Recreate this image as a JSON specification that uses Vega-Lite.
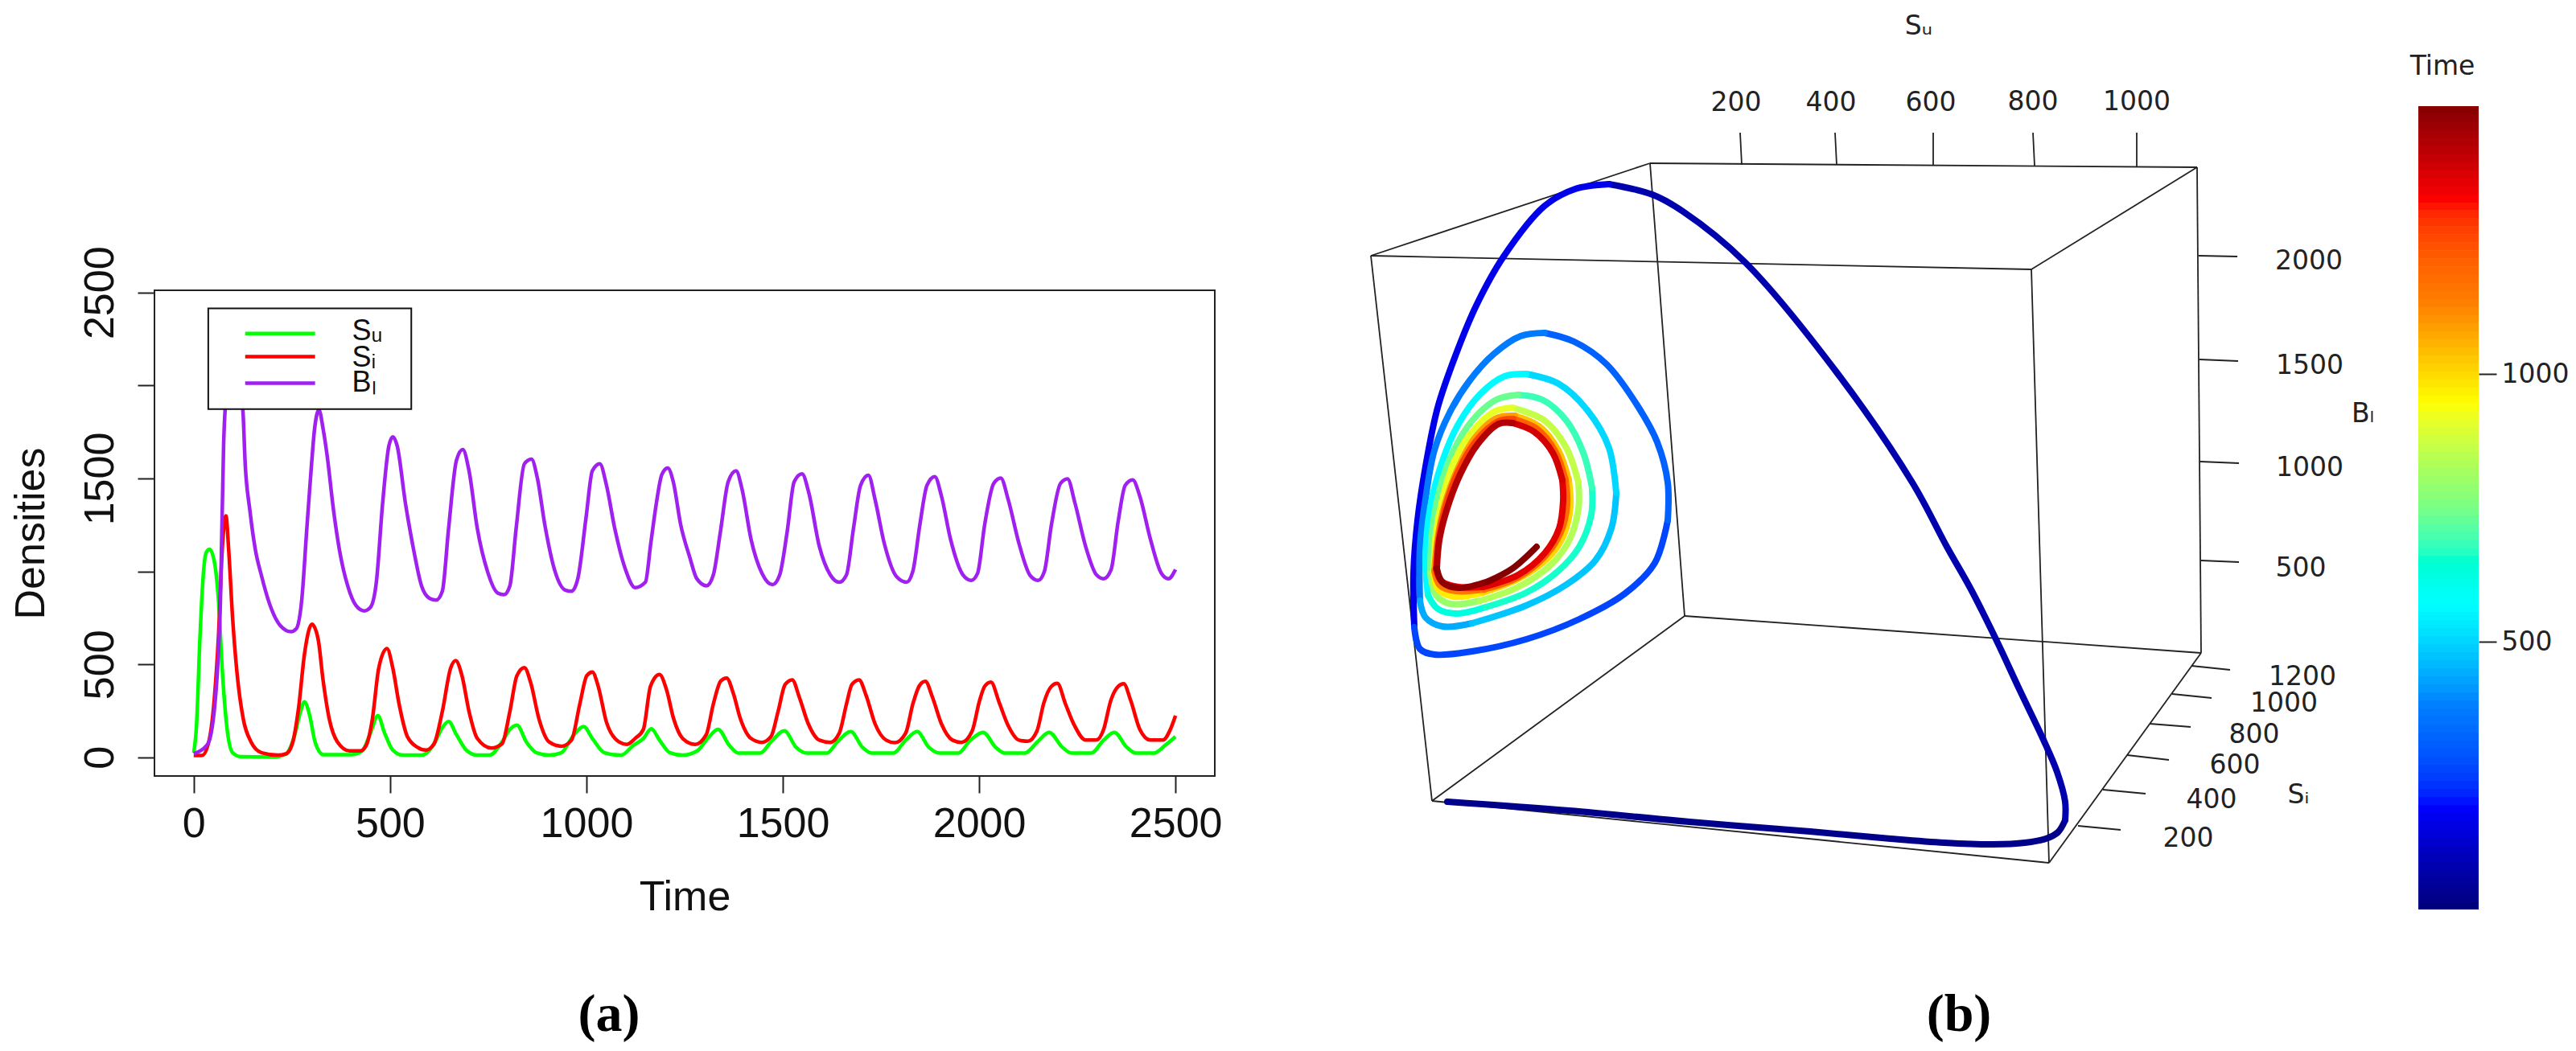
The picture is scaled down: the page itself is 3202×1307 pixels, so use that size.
{"$schema":"https://vega.github.io/schema/vega-lite/v6.json","width":3202,"height":1307,"padding":0,"autosize":{"type":"none"},"background":"white","config":{"view":{"stroke":null},"font":"Liberation Sans","axis":{"grid":false,"labelFont":"Liberation Sans","titleFont":"Liberation Sans","labelColor":"#111","titleColor":"#111","titleFontWeight":"normal","tickColor":"#222"}},
"datasets":{
"series":[
{"Time":0,"Series":"Su","Density":25},{"Time":7,"Series":"Su","Density":170},{"Time":16,"Series":"Su","Density":652},{"Time":23,"Series":"Su","Density":942},{"Time":31,"Series":"Su","Density":1097},{"Time":40,"Series":"Su","Density":1120},{"Time":52,"Series":"Su","Density":1058},{"Time":63,"Series":"Su","Density":846},{"Time":73,"Series":"Su","Density":459},{"Time":84,"Series":"Su","Density":170},{"Time":99,"Series":"Su","Density":25},{"Time":120,"Series":"Su","Density":4},{"Time":204,"Series":"Su","Density":2},{"Time":235,"Series":"Su","Density":19},{"Time":256,"Series":"Su","Density":112},{"Time":272,"Series":"Su","Density":247},{"Time":282,"Series":"Su","Density":299},{"Time":295,"Series":"Su","Density":228},{"Time":309,"Series":"Su","Density":83},{"Time":330,"Series":"Su","Density":15},{"Time":403,"Series":"Su","Density":15},{"Time":429,"Series":"Su","Density":35},{"Time":450,"Series":"Su","Density":131},{"Time":469,"Series":"Su","Density":224},{"Time":486,"Series":"Su","Density":131},{"Time":507,"Series":"Su","Density":39},{"Time":533,"Series":"Su","Density":12},{"Time":581,"Series":"Su","Density":12},{"Time":612,"Series":"Su","Density":73},{"Time":633,"Series":"Su","Density":160},{"Time":649,"Series":"Su","Density":193},{"Time":669,"Series":"Su","Density":122},{"Time":696,"Series":"Su","Density":35},{"Time":722,"Series":"Su","Density":12},{"Time":753,"Series":"Su","Density":12},{"Time":785,"Series":"Su","Density":83},{"Time":805,"Series":"Su","Density":151},{"Time":823,"Series":"Su","Density":174},{"Time":847,"Series":"Su","Density":83},{"Time":873,"Series":"Su","Density":25},{"Time":905,"Series":"Su","Density":12},{"Time":936,"Series":"Su","Density":25},{"Time":968,"Series":"Su","Density":122},{"Time":993,"Series":"Su","Density":166},{"Time":1015,"Series":"Su","Density":102},{"Time":1046,"Series":"Su","Density":25},{"Time":1088,"Series":"Su","Density":12},{"Time":1119,"Series":"Su","Density":64},{"Time":1145,"Series":"Su","Density":102},{"Time":1165,"Series":"Su","Density":154},{"Time":1186,"Series":"Su","Density":93},{"Time":1213,"Series":"Su","Density":25},{"Time":1245,"Series":"Su","Density":12},{"Time":1282,"Series":"Su","Density":35},{"Time":1309,"Series":"Su","Density":102},{"Time":1335,"Series":"Su","Density":151},{"Time":1364,"Series":"Su","Density":64},{"Time":1387,"Series":"Su","Density":23},{"Time":1442,"Series":"Su","Density":23},{"Time":1470,"Series":"Su","Density":83},{"Time":1504,"Series":"Su","Density":143},{"Time":1534,"Series":"Su","Density":54},{"Time":1562,"Series":"Su","Density":23},{"Time":1612,"Series":"Su","Density":23},{"Time":1639,"Series":"Su","Density":83},{"Time":1673,"Series":"Su","Density":139},{"Time":1703,"Series":"Su","Density":54},{"Time":1726,"Series":"Su","Density":23},{"Time":1781,"Series":"Su","Density":23},{"Time":1813,"Series":"Su","Density":93},{"Time":1842,"Series":"Su","Density":139},{"Time":1872,"Series":"Su","Density":54},{"Time":1900,"Series":"Su","Density":23},{"Time":1946,"Series":"Su","Density":23},{"Time":1978,"Series":"Su","Density":93},{"Time":2010,"Series":"Su","Density":135},{"Time":2042,"Series":"Su","Density":54},{"Time":2065,"Series":"Su","Density":23},{"Time":2116,"Series":"Su","Density":23},{"Time":2148,"Series":"Su","Density":83},{"Time":2178,"Series":"Su","Density":135},{"Time":2212,"Series":"Su","Density":54},{"Time":2235,"Series":"Su","Density":23},{"Time":2285,"Series":"Su","Density":23},{"Time":2317,"Series":"Su","Density":93},{"Time":2344,"Series":"Su","Density":135},{"Time":2376,"Series":"Su","Density":54},{"Time":2399,"Series":"Su","Density":23},{"Time":2445,"Series":"Su","Density":23},{"Time":2473,"Series":"Su","Density":64},{"Time":2500,"Series":"Su","Density":112},
{"Time":0,"Series":"Si","Density":10},{"Time":21,"Series":"Si","Density":10},{"Time":37,"Series":"Si","Density":73},{"Time":52,"Series":"Si","Density":305},{"Time":63,"Series":"Si","Density":652},{"Time":73,"Series":"Si","Density":1135},{"Time":82,"Series":"Si","Density":1299},{"Time":89,"Series":"Si","Density":1116},{"Time":99,"Series":"Si","Density":749},{"Time":110,"Series":"Si","Density":459},{"Time":126,"Series":"Si","Density":208},{"Time":146,"Series":"Si","Density":83},{"Time":173,"Series":"Si","Density":25},{"Time":214,"Series":"Si","Density":12},{"Time":235,"Series":"Si","Density":19},{"Time":251,"Series":"Si","Density":73},{"Time":267,"Series":"Si","Density":266},{"Time":282,"Series":"Si","Density":556},{"Time":301,"Series":"Si","Density":716},{"Time":317,"Series":"Si","Density":633},{"Time":329,"Series":"Si","Density":421},{"Time":345,"Series":"Si","Density":208},{"Time":366,"Series":"Si","Density":83},{"Time":397,"Series":"Si","Density":35},{"Time":424,"Series":"Si","Density":35},{"Time":439,"Series":"Si","Density":64},{"Time":455,"Series":"Si","Density":208},{"Time":471,"Series":"Si","Density":479},{"Time":492,"Series":"Si","Density":585},{"Time":507,"Series":"Si","Density":479},{"Time":523,"Series":"Si","Density":286},{"Time":544,"Series":"Si","Density":112},{"Time":570,"Series":"Si","Density":54},{"Time":591,"Series":"Si","Density":39},{"Time":612,"Series":"Si","Density":73},{"Time":633,"Series":"Si","Density":247},{"Time":654,"Series":"Si","Density":479},{"Time":667,"Series":"Si","Density":521},{"Time":683,"Series":"Si","Density":440},{"Time":701,"Series":"Si","Density":247},{"Time":722,"Series":"Si","Density":102},{"Time":758,"Series":"Si","Density":50},{"Time":785,"Series":"Si","Density":73},{"Time":805,"Series":"Si","Density":247},{"Time":823,"Series":"Si","Density":440},{"Time":842,"Series":"Si","Density":483},{"Time":858,"Series":"Si","Density":402},{"Time":879,"Series":"Si","Density":208},{"Time":905,"Series":"Si","Density":83},{"Time":936,"Series":"Si","Density":60},{"Time":962,"Series":"Si","Density":93},{"Time":983,"Series":"Si","Density":286},{"Time":1001,"Series":"Si","Density":440},{"Time":1015,"Series":"Si","Density":459},{"Time":1030,"Series":"Si","Density":382},{"Time":1051,"Series":"Si","Density":189},{"Time":1083,"Series":"Si","Density":83},{"Time":1103,"Series":"Si","Density":70},{"Time":1124,"Series":"Si","Density":102},{"Time":1145,"Series":"Si","Density":151},{"Time":1163,"Series":"Si","Density":382},{"Time":1186,"Series":"Si","Density":446},{"Time":1204,"Series":"Si","Density":363},{"Time":1222,"Series":"Si","Density":208},{"Time":1245,"Series":"Si","Density":102},{"Time":1277,"Series":"Si","Density":70},{"Time":1305,"Series":"Si","Density":122},{"Time":1323,"Series":"Si","Density":286},{"Time":1342,"Series":"Si","Density":411},{"Time":1357,"Series":"Si","Density":427},{"Time":1374,"Series":"Si","Density":344},{"Time":1392,"Series":"Si","Density":208},{"Time":1419,"Series":"Si","Density":102},{"Time":1447,"Series":"Si","Density":81},{"Time":1470,"Series":"Si","Density":112},{"Time":1488,"Series":"Si","Density":247},{"Time":1506,"Series":"Si","Density":392},{"Time":1524,"Series":"Si","Density":417},{"Time":1542,"Series":"Si","Density":324},{"Time":1565,"Series":"Si","Density":180},{"Time":1593,"Series":"Si","Density":93},{"Time":1621,"Series":"Si","Density":81},{"Time":1644,"Series":"Si","Density":131},{"Time":1662,"Series":"Si","Density":286},{"Time":1676,"Series":"Si","Density":392},{"Time":1694,"Series":"Si","Density":417},{"Time":1712,"Series":"Si","Density":334},{"Time":1735,"Series":"Si","Density":180},{"Time":1763,"Series":"Si","Density":93},{"Time":1785,"Series":"Si","Density":79},{"Time":1813,"Series":"Si","Density":131},{"Time":1831,"Series":"Si","Density":286},{"Time":1848,"Series":"Si","Density":386},{"Time":1863,"Series":"Si","Density":409},{"Time":1881,"Series":"Si","Density":324},{"Time":1904,"Series":"Si","Density":180},{"Time":1932,"Series":"Si","Density":93},{"Time":1955,"Series":"Si","Density":81},{"Time":1982,"Series":"Si","Density":141},{"Time":2001,"Series":"Si","Density":305},{"Time":2014,"Series":"Si","Density":382},{"Time":2030,"Series":"Si","Density":405},{"Time":2051,"Series":"Si","Density":295},{"Time":2074,"Series":"Si","Density":170},{"Time":2101,"Series":"Si","Density":93},{"Time":2124,"Series":"Si","Density":87},{"Time":2147,"Series":"Si","Density":141},{"Time":2165,"Series":"Si","Density":295},{"Time":2184,"Series":"Si","Density":382},{"Time":2199,"Series":"Si","Density":398},{"Time":2220,"Series":"Si","Density":286},{"Time":2243,"Series":"Si","Density":170},{"Time":2271,"Series":"Si","Density":93},{"Time":2298,"Series":"Si","Density":93},{"Time":2317,"Series":"Si","Density":151},{"Time":2335,"Series":"Si","Density":305},{"Time":2354,"Series":"Si","Density":382},{"Time":2368,"Series":"Si","Density":396},{"Time":2386,"Series":"Si","Density":305},{"Time":2409,"Series":"Si","Density":151},{"Time":2436,"Series":"Si","Density":93},{"Time":2468,"Series":"Si","Density":93},{"Time":2487,"Series":"Si","Density":151},{"Time":2500,"Series":"Si","Density":224},
{"Time":0,"Series":"BI","Density":20},{"Time":36,"Series":"BI","Density":73},{"Time":57,"Series":"BI","Density":363},{"Time":68,"Series":"BI","Density":845},{"Time":76,"Series":"BI","Density":1675},{"Time":85,"Series":"BI","Density":2000},{"Time":102,"Series":"BI","Density":2150},{"Time":125,"Series":"BI","Density":1870},{"Time":131,"Series":"BI","Density":1580},{"Time":143,"Series":"BI","Density":1328},{"Time":157,"Series":"BI","Density":1116},{"Time":172,"Series":"BI","Density":981},{"Time":193,"Series":"BI","Density":826},{"Time":220,"Series":"BI","Density":710},{"Time":248,"Series":"BI","Density":676},{"Time":261,"Series":"BI","Density":691},{"Time":275,"Series":"BI","Density":846},{"Time":288,"Series":"BI","Density":1232},{"Time":298,"Series":"BI","Density":1521},{"Time":308,"Series":"BI","Density":1772},{"Time":319,"Series":"BI","Density":1869},{"Time":329,"Series":"BI","Density":1772},{"Time":340,"Series":"BI","Density":1618},{"Time":356,"Series":"BI","Density":1328},{"Time":371,"Series":"BI","Density":1116},{"Time":392,"Series":"BI","Density":923},{"Time":413,"Series":"BI","Density":817},{"Time":434,"Series":"BI","Density":788},{"Time":450,"Series":"BI","Density":807},{"Time":465,"Series":"BI","Density":942},{"Time":481,"Series":"BI","Density":1367},{"Time":497,"Series":"BI","Density":1676},{"Time":507,"Series":"BI","Density":1724},{"Time":518,"Series":"BI","Density":1676},{"Time":539,"Series":"BI","Density":1367},{"Time":560,"Series":"BI","Density":1116},{"Time":580,"Series":"BI","Density":923},{"Time":601,"Series":"BI","Density":855},{"Time":617,"Series":"BI","Density":846},{"Time":633,"Series":"BI","Density":894},{"Time":649,"Series":"BI","Density":1232},{"Time":669,"Series":"BI","Density":1598},{"Time":685,"Series":"BI","Density":1656},{"Time":701,"Series":"BI","Density":1541},{"Time":722,"Series":"BI","Density":1232},{"Time":748,"Series":"BI","Density":1000},{"Time":774,"Series":"BI","Density":884},{"Time":790,"Series":"BI","Density":875},{"Time":805,"Series":"BI","Density":923},{"Time":821,"Series":"BI","Density":1232},{"Time":842,"Series":"BI","Density":1579},{"Time":860,"Series":"BI","Density":1604},{"Time":875,"Series":"BI","Density":1502},{"Time":894,"Series":"BI","Density":1251},{"Time":920,"Series":"BI","Density":1000},{"Time":946,"Series":"BI","Density":900},{"Time":962,"Series":"BI","Density":894},{"Time":978,"Series":"BI","Density":961},{"Time":999,"Series":"BI","Density":1290},{"Time":1015,"Series":"BI","Density":1541},{"Time":1034,"Series":"BI","Density":1579},{"Time":1051,"Series":"BI","Density":1463},{"Time":1072,"Series":"BI","Density":1232},{"Time":1098,"Series":"BI","Density":1019},{"Time":1124,"Series":"BI","Density":913},{"Time":1150,"Series":"BI","Density":942},{"Time":1164,"Series":"BI","Density":1154},{"Time":1178,"Series":"BI","Density":1367},{"Time":1192,"Series":"BI","Density":1521},{"Time":1207,"Series":"BI","Density":1556},{"Time":1221,"Series":"BI","Density":1483},{"Time":1240,"Series":"BI","Density":1251},{"Time":1263,"Series":"BI","Density":1077},{"Time":1281,"Series":"BI","Density":961},{"Time":1306,"Series":"BI","Density":923},{"Time":1323,"Series":"BI","Density":981},{"Time":1341,"Series":"BI","Density":1212},{"Time":1361,"Series":"BI","Density":1483},{"Time":1381,"Series":"BI","Density":1541},{"Time":1396,"Series":"BI","Density":1444},{"Time":1419,"Series":"BI","Density":1174},{"Time":1447,"Series":"BI","Density":990},{"Time":1474,"Series":"BI","Density":929},{"Time":1492,"Series":"BI","Density":981},{"Time":1511,"Series":"BI","Density":1212},{"Time":1529,"Series":"BI","Density":1483},{"Time":1549,"Series":"BI","Density":1525},{"Time":1566,"Series":"BI","Density":1425},{"Time":1593,"Series":"BI","Density":1135},{"Time":1621,"Series":"BI","Density":981},{"Time":1644,"Series":"BI","Density":942},{"Time":1662,"Series":"BI","Density":981},{"Time":1680,"Series":"BI","Density":1232},{"Time":1698,"Series":"BI","Density":1463},{"Time":1718,"Series":"BI","Density":1517},{"Time":1735,"Series":"BI","Density":1386},{"Time":1758,"Series":"BI","Density":1154},{"Time":1790,"Series":"BI","Density":971},{"Time":1815,"Series":"BI","Density":942},{"Time":1831,"Series":"BI","Density":1000},{"Time":1849,"Series":"BI","Density":1251},{"Time":1867,"Series":"BI","Density":1463},{"Time":1887,"Series":"BI","Density":1510},{"Time":1904,"Series":"BI","Density":1405},{"Time":1927,"Series":"BI","Density":1174},{"Time":1959,"Series":"BI","Density":981},{"Time":1980,"Series":"BI","Density":952},{"Time":1996,"Series":"BI","Density":990},{"Time":2014,"Series":"BI","Density":1251},{"Time":2037,"Series":"BI","Density":1473},{"Time":2055,"Series":"BI","Density":1502},{"Time":2074,"Series":"BI","Density":1386},{"Time":2101,"Series":"BI","Density":1154},{"Time":2129,"Series":"BI","Density":981},{"Time":2150,"Series":"BI","Density":952},{"Time":2166,"Series":"BI","Density":1000},{"Time":2184,"Series":"BI","Density":1251},{"Time":2207,"Series":"BI","Density":1473},{"Time":2225,"Series":"BI","Density":1498},{"Time":2244,"Series":"BI","Density":1367},{"Time":2271,"Series":"BI","Density":1135},{"Time":2299,"Series":"BI","Density":981},{"Time":2317,"Series":"BI","Density":961},{"Time":2336,"Series":"BI","Density":1010},{"Time":2354,"Series":"BI","Density":1270},{"Time":2372,"Series":"BI","Density":1463},{"Time":2391,"Series":"BI","Density":1492},{"Time":2409,"Series":"BI","Density":1405},{"Time":2436,"Series":"BI","Density":1174},{"Time":2464,"Series":"BI","Density":990},{"Time":2482,"Series":"BI","Density":961},{"Time":2500,"Series":"BI","Density":1010}
],
"legendKeys":[{"Series":"Su","from":131,"to":309,"level":2280},{"Series":"Si","from":131,"to":309,"level":2155},{"Series":"BI","from":131,"to":309,"level":2013}],
"legendText":[{"label":"Sᵤ","at":403,"level":2293},{"label":"Sᵢ","at":403,"level":2149},{"label":"Bₗ","at":403,"level":2013}],
"orbit":[
{"Arc":18,"Time":0,"u":1799,"v":997},{"Arc":18,"Time":5,"u":1950,"v":1008},{"Arc":18,"Time":10,"u":2100,"v":1022},{"Arc":18,"Time":15,"u":2250,"v":1034},{"Arc":18,"Time":18,"u":2350,"v":1043},{"Arc":18,"Time":21,"u":2417,"v":1048},{"Arc":18,"Time":24,"u":2477,"v":1050},{"Arc":18,"Time":27,"u":2517,"v":1048},{"Arc":18,"Time":30,"u":2543,"v":1043},{"Arc":18,"Time":33,"u":2558,"v":1035},{"Arc":18,"Time":36,"u":2567,"v":1020},
{"Arc":68,"Time":36,"u":2567,"v":1020},{"Arc":68,"Time":38,"u":2567,"v":997},{"Arc":68,"Time":41,"u":2557,"v":960},{"Arc":68,"Time":45,"u":2540,"v":920},{"Arc":68,"Time":50,"u":2510,"v":857},{"Arc":68,"Time":54,"u":2482,"v":797},{"Arc":68,"Time":58,"u":2450,"v":733},{"Arc":68,"Time":61,"u":2420,"v":680},{"Arc":68,"Time":64,"u":2377,"v":600},{"Arc":68,"Time":70,"u":2283,"v":463},{"Arc":68,"Time":80,"u":2169,"v":326},{"Arc":68,"Time":88,"u":2092,"v":263},{"Arc":68,"Time":93,"u":2054,"v":242},{"Arc":68,"Time":100,"u":2000,"v":229},
{"Arc":158,"Time":100,"u":2000,"v":229},{"Arc":158,"Time":105,"u":1958,"v":235},{"Arc":158,"Time":110,"u":1920,"v":256},{"Arc":158,"Time":120,"u":1869,"v":319},{"Arc":158,"Time":127,"u":1835,"v":380},{"Arc":158,"Time":132,"u":1810,"v":440},{"Arc":158,"Time":140,"u":1787,"v":507},{"Arc":158,"Time":155,"u":1772,"v":580},{"Arc":158,"Time":175,"u":1762,"v":647},{"Arc":158,"Time":195,"u":1757,"v":713},{"Arc":158,"Time":215,"u":1758,"v":780},
{"Arc":255,"Time":215,"u":1758,"v":780},{"Arc":255,"Time":232,"u":1765,"v":807},{"Arc":255,"Time":248,"u":1783,"v":814},{"Arc":255,"Time":258,"u":1830,"v":810},{"Arc":255,"Time":268,"u":1897,"v":795},{"Arc":255,"Time":277,"u":1963,"v":770},{"Arc":255,"Time":285,"u":2020,"v":738},{"Arc":255,"Time":290,"u":2057,"v":700},{"Arc":255,"Time":294,"u":2073,"v":647},
{"Arc":306,"Time":294,"u":2073,"v":647},{"Arc":306,"Time":297,"u":2073,"v":600},{"Arc":306,"Time":300,"u":2060,"v":550},{"Arc":306,"Time":303,"u":2037,"v":507},{"Arc":306,"Time":307,"u":1997,"v":453},{"Arc":306,"Time":311,"u":1957,"v":425},{"Arc":306,"Time":319,"u":1920,"v":414},
{"Arc":365,"Time":319,"u":1920,"v":414},{"Arc":365,"Time":325,"u":1890,"v":418},{"Arc":365,"Time":332,"u":1857,"v":440},{"Arc":365,"Time":340,"u":1827,"v":473},{"Arc":365,"Time":350,"u":1802,"v":513},{"Arc":365,"Time":362,"u":1783,"v":560},{"Arc":365,"Time":378,"u":1772,"v":620},{"Arc":365,"Time":395,"u":1765,"v":680},{"Arc":365,"Time":412,"u":1765,"v":747},
{"Arc":432,"Time":412,"u":1765,"v":747},{"Arc":432,"Time":425,"u":1772,"v":768},{"Arc":432,"Time":440,"u":1793,"v":779},{"Arc":432,"Time":452,"u":1830,"v":775},
{"Arc":470,"Time":452,"u":1830,"v":775},{"Arc":470,"Time":463,"u":1897,"v":753},{"Arc":470,"Time":472,"u":1947,"v":727},{"Arc":470,"Time":480,"u":1983,"v":697},{"Arc":470,"Time":485,"u":2003,"v":657},{"Arc":470,"Time":489,"u":2009,"v":613},
{"Arc":498,"Time":489,"u":2009,"v":613},{"Arc":498,"Time":493,"u":2000,"v":557},{"Arc":498,"Time":497,"u":1973,"v":510},{"Arc":498,"Time":501,"u":1937,"v":477},{"Arc":498,"Time":507,"u":1897,"v":465},
{"Arc":553,"Time":507,"u":1897,"v":465},{"Arc":553,"Time":513,"u":1870,"v":468},{"Arc":553,"Time":522,"u":1840,"v":490},{"Arc":553,"Time":532,"u":1813,"v":527},{"Arc":553,"Time":545,"u":1793,"v":573},{"Arc":553,"Time":562,"u":1778,"v":630},{"Arc":553,"Time":582,"u":1772,"v":697},{"Arc":553,"Time":600,"u":1775,"v":740},
{"Arc":618,"Time":600,"u":1775,"v":740},{"Arc":618,"Time":612,"u":1787,"v":757},{"Arc":618,"Time":624,"u":1810,"v":763},{"Arc":618,"Time":636,"u":1847,"v":755},
{"Arc":652,"Time":636,"u":1847,"v":755},{"Arc":652,"Time":646,"u":1897,"v":737},{"Arc":652,"Time":654,"u":1937,"v":710},{"Arc":652,"Time":660,"u":1963,"v":680},{"Arc":652,"Time":665,"u":1978,"v":640},{"Arc":652,"Time":669,"u":1979,"v":607},
{"Arc":677,"Time":669,"u":1979,"v":607},{"Arc":677,"Time":673,"u":1968,"v":563},{"Arc":677,"Time":677,"u":1947,"v":523},{"Arc":677,"Time":681,"u":1917,"v":497},{"Arc":677,"Time":685,"u":1887,"v":491},
{"Arc":727,"Time":685,"u":1887,"v":491},{"Arc":727,"Time":692,"u":1860,"v":497},{"Arc":727,"Time":703,"u":1830,"v":523},{"Arc":727,"Time":715,"u":1807,"v":560},{"Arc":727,"Time":730,"u":1790,"v":607},{"Arc":727,"Time":750,"u":1780,"v":663},{"Arc":727,"Time":770,"u":1778,"v":713},
{"Arc":789,"Time":770,"u":1778,"v":713},{"Arc":789,"Time":782,"u":1785,"v":740},{"Arc":789,"Time":795,"u":1803,"v":751},{"Arc":789,"Time":808,"u":1840,"v":747},
{"Arc":827,"Time":808,"u":1840,"v":747},{"Arc":827,"Time":820,"u":1887,"v":730},{"Arc":827,"Time":830,"u":1927,"v":703},{"Arc":827,"Time":837,"u":1950,"v":673},{"Arc":827,"Time":843,"u":1962,"v":633},{"Arc":827,"Time":847,"u":1962,"v":600},
{"Arc":853,"Time":847,"u":1962,"v":600},{"Arc":853,"Time":851,"u":1947,"v":557},{"Arc":853,"Time":855,"u":1920,"v":523},{"Arc":853,"Time":860,"u":1880,"v":507},
{"Arc":905,"Time":860,"u":1880,"v":507},{"Arc":905,"Time":868,"u":1857,"v":512},{"Arc":905,"Time":880,"u":1830,"v":537},{"Arc":905,"Time":895,"u":1808,"v":573},{"Arc":905,"Time":912,"u":1793,"v":620},{"Arc":905,"Time":930,"u":1785,"v":663},{"Arc":905,"Time":950,"u":1782,"v":713},
{"Arc":966,"Time":950,"u":1782,"v":713},{"Arc":966,"Time":960,"u":1788,"v":733},{"Arc":966,"Time":970,"u":1807,"v":742},{"Arc":966,"Time":982,"u":1843,"v":737},
{"Arc":1002,"Time":982,"u":1843,"v":737},{"Arc":1002,"Time":995,"u":1887,"v":720},{"Arc":1002,"Time":1005,"u":1923,"v":695},{"Arc":1002,"Time":1012,"u":1943,"v":667},{"Arc":1002,"Time":1018,"u":1952,"v":630},{"Arc":1002,"Time":1022,"u":1950,"v":597},
{"Arc":1028,"Time":1022,"u":1950,"v":597},{"Arc":1028,"Time":1026,"u":1937,"v":560},{"Arc":1028,"Time":1030,"u":1913,"v":530},{"Arc":1028,"Time":1034,"u":1883,"v":517},
{"Arc":1078,"Time":1034,"u":1883,"v":517},{"Arc":1078,"Time":1042,"u":1860,"v":520},{"Arc":1078,"Time":1053,"u":1833,"v":545},{"Arc":1078,"Time":1068,"u":1812,"v":583},{"Arc":1078,"Time":1085,"u":1795,"v":630},{"Arc":1078,"Time":1105,"u":1787,"v":670},{"Arc":1078,"Time":1122,"u":1783,"v":710},
{"Arc":1140,"Time":1122,"u":1783,"v":710},{"Arc":1140,"Time":1133,"u":1790,"v":728},{"Arc":1140,"Time":1145,"u":1810,"v":735},{"Arc":1140,"Time":1158,"u":1845,"v":733},
{"Arc":1177,"Time":1158,"u":1845,"v":733},{"Arc":1177,"Time":1170,"u":1887,"v":718},{"Arc":1177,"Time":1180,"u":1921,"v":691},{"Arc":1177,"Time":1186,"u":1940,"v":662},{"Arc":1177,"Time":1192,"u":1948,"v":627},{"Arc":1177,"Time":1196,"u":1946,"v":597},
{"Arc":1201,"Time":1196,"u":1946,"v":597},{"Arc":1201,"Time":1200,"u":1933,"v":561},{"Arc":1201,"Time":1203,"u":1910,"v":533},{"Arc":1201,"Time":1207,"u":1881,"v":521},
{"Arc":1252,"Time":1207,"u":1881,"v":521},{"Arc":1252,"Time":1215,"u":1862,"v":524},{"Arc":1252,"Time":1228,"u":1835,"v":548},{"Arc":1252,"Time":1242,"u":1813,"v":585},{"Arc":1252,"Time":1260,"u":1796,"v":632},{"Arc":1252,"Time":1280,"u":1788,"v":670},{"Arc":1252,"Time":1298,"u":1785,"v":707},
{"Arc":1315,"Time":1298,"u":1785,"v":707},{"Arc":1315,"Time":1308,"u":1792,"v":723},{"Arc":1315,"Time":1320,"u":1813,"v":730},{"Arc":1315,"Time":1332,"u":1843,"v":730},
{"Arc":1352,"Time":1332,"u":1843,"v":730},{"Arc":1352,"Time":1345,"u":1887,"v":715},{"Arc":1352,"Time":1355,"u":1920,"v":688},{"Arc":1352,"Time":1362,"u":1938,"v":657},{"Arc":1352,"Time":1368,"u":1943,"v":623},{"Arc":1352,"Time":1372,"u":1942,"v":597},
{"Arc":1376,"Time":1372,"u":1942,"v":597},{"Arc":1376,"Time":1376,"u":1930,"v":563},{"Arc":1376,"Time":1379,"u":1907,"v":537},{"Arc":1376,"Time":1381,"u":1880,"v":526},
{"Arc":1421,"Time":1381,"u":1880,"v":526},{"Arc":1421,"Time":1388,"u":1863,"v":527},{"Arc":1421,"Time":1400,"u":1837,"v":552},{"Arc":1421,"Time":1414,"u":1815,"v":590},{"Arc":1421,"Time":1430,"u":1798,"v":635},{"Arc":1421,"Time":1448,"u":1789,"v":672},{"Arc":1421,"Time":1462,"u":1786,"v":707},
{"Arc":1474,"Time":1462,"u":1786,"v":707},{"Arc":1474,"Time":1470,"u":1793,"v":724},{"Arc":1474,"Time":1478,"u":1813,"v":731},{"Arc":1474,"Time":1486,"u":1850,"v":723},
{"Arc":1493,"Time":1486,"u":1850,"v":723},{"Arc":1493,"Time":1493,"u":1880,"v":707},{"Arc":1493,"Time":1500,"u":1910,"v":680}
],
"box":[
{"edge":"top left","u":1704,"v":318,"u2":2051,"v2":203},{"edge":"top front","u":1704,"v":318,"u2":2525,"v2":335},{"edge":"top back","u":2051,"v":203,"u2":2731,"v2":208},{"edge":"top right","u":2525,"v":335,"u2":2731,"v2":208},{"edge":"front left","u":1704,"v":318,"u2":1780,"v2":996},{"edge":"back left","u":2051,"v":203,"u2":2094,"v2":766},{"edge":"front right","u":2525,"v":335,"u2":2547,"v2":1073},{"edge":"back right","u":2731,"v":208,"u2":2736,"v2":812},{"edge":"bottom left","u":1780,"v":996,"u2":2094,"v2":766},{"edge":"bottom front","u":1780,"v":996,"u2":2547,"v2":1073},{"edge":"bottom back","u":2094,"v":766,"u2":2736,"v2":812},{"edge":"bottom right","u":2547,"v":1073,"u2":2736,"v2":812},
{"edge":"Su 200","u":2165,"v":205,"u2":2163,"v2":165},{"edge":"Su 400","u":2283,"v":205,"u2":2281,"v2":165},{"edge":"Su 600","u":2403,"v":206,"u2":2403,"v2":165},{"edge":"Su 800","u":2529,"v":206,"u2":2527,"v2":165},{"edge":"Su 1000","u":2656,"v":207,"u2":2656,"v2":165},
{"edge":"BI 2000","u":2733,"v":318,"u2":2781,"v2":319},{"edge":"BI 1500","u":2734,"v":447,"u2":2782,"v2":449},{"edge":"BI 1000","u":2735,"v":574,"u2":2783,"v2":576},{"edge":"BI 500","u":2736,"v":697,"u2":2783,"v2":699},
{"edge":"Si 200","u":2583,"v":1027,"u2":2636,"v2":1032},{"edge":"Si 400","u":2614,"v":982,"u2":2667,"v2":987},{"edge":"Si 600","u":2644,"v":939,"u2":2696,"v2":945},{"edge":"Si 800","u":2672,"v":900,"u2":2723,"v2":904},{"edge":"Si 1000","u":2700,"v":863,"u2":2749,"v2":868},{"edge":"Si 1200","u":2724,"v":828,"u2":2772,"v2":833}
],
"boxText":[
{"label":"200","u":2158,"v":128},{"label":"400","u":2276,"v":128},{"label":"600","u":2400,"v":128},{"label":"800","u":2527,"v":127},{"label":"1000","u":2656,"v":127},{"label":"Sᵤ","u":2385,"v":33},
{"label":"2000","u":2870,"v":325},{"label":"1500","u":2871,"v":455},{"label":"1000","u":2871,"v":582},{"label":"500","u":2860,"v":707},{"label":"Bₗ","u":2937,"v":515},
{"label":"200","u":2720,"v":1043},{"label":"400","u":2749,"v":995},{"label":"600","u":2778,"v":952},{"label":"800","u":2802,"v":914},{"label":"1000","u":2839,"v":875},{"label":"1200","u":2862,"v":842},{"label":"Sᵢ","u":2857,"v":989},
{"label":"Time","u":3036,"v":83}
],
"captions":[{"label":"(a)","u":757,"v":1262},{"label":"(b)","u":2435,"v":1262}],
"bar":[{"t":0,"e":16},{"t":15,"e":31},{"t":30,"e":46},{"t":45,"e":61},{"t":60,"e":76},{"t":75,"e":91},{"t":90,"e":106},{"t":105,"e":121},{"t":120,"e":136},{"t":135,"e":151},{"t":150,"e":166},{"t":165,"e":181},{"t":180,"e":196},{"t":195,"e":211},{"t":210,"e":226},{"t":225,"e":241},{"t":240,"e":256},{"t":255,"e":271},{"t":270,"e":286},{"t":285,"e":301},{"t":300,"e":316},{"t":315,"e":331},{"t":330,"e":346},{"t":345,"e":361},{"t":360,"e":376},{"t":375,"e":391},{"t":390,"e":406},{"t":405,"e":421},{"t":420,"e":436},{"t":435,"e":451},{"t":450,"e":466},{"t":465,"e":481},{"t":480,"e":496},{"t":495,"e":511},{"t":510,"e":526},{"t":525,"e":541},{"t":540,"e":556},{"t":555,"e":571},{"t":570,"e":586},{"t":585,"e":601},{"t":600,"e":616},{"t":615,"e":631},{"t":630,"e":646},{"t":645,"e":661},{"t":660,"e":676},{"t":675,"e":691},{"t":690,"e":706},{"t":705,"e":721},{"t":720,"e":736},{"t":735,"e":751},{"t":750,"e":766},{"t":765,"e":781},{"t":780,"e":796},{"t":795,"e":811},{"t":810,"e":826},{"t":825,"e":841},{"t":840,"e":856},{"t":855,"e":871},{"t":870,"e":886},{"t":885,"e":901},{"t":900,"e":916},{"t":915,"e":931},{"t":930,"e":946},{"t":945,"e":961},{"t":960,"e":976},{"t":975,"e":991},{"t":990,"e":1006},{"t":1005,"e":1021},{"t":1020,"e":1036},{"t":1035,"e":1051},{"t":1050,"e":1066},{"t":1065,"e":1081},{"t":1080,"e":1096},{"t":1095,"e":1111},{"t":1110,"e":1126},{"t":1125,"e":1141},{"t":1140,"e":1156},{"t":1155,"e":1171},{"t":1170,"e":1186},{"t":1185,"e":1201},{"t":1200,"e":1216},{"t":1215,"e":1231},{"t":1230,"e":1246},{"t":1245,"e":1261},{"t":1260,"e":1276},{"t":1275,"e":1291},{"t":1290,"e":1306},{"t":1305,"e":1321},{"t":1320,"e":1336},{"t":1335,"e":1351},{"t":1350,"e":1366},{"t":1365,"e":1381},{"t":1380,"e":1396},{"t":1395,"e":1411},{"t":1410,"e":1426},{"t":1425,"e":1441},{"t":1440,"e":1456},{"t":1455,"e":1471},{"t":1470,"e":1486},{"t":1485,"e":1500}]
},
"resolve":{"scale":{"x":"independent","y":"independent","color":"independent"},"axis":{"x":"independent","y":"independent"}},
"layer":[
{"layer":[
{"data":{"name":"series"},"mark":{"type":"line","strokeWidth":4.5,"interpolate":"monotone"},
"encoding":{"x":{"field":"Time","type":"quantitative","scale":{"domain":[-100,2600],"range":[192,1510],"nice":false,"zero":false},
"axis":{"title":"Time","offset":-342,"values":[0,500,1000,1500,2000,2500],"format":"d","domain":false,"tickSize":21,"tickWidth":2,"labelFontSize":52,"labelPadding":13,"labelOverlap":false,"labelFlush":false,"titleFontSize":52,"titlePadding":40}},
"y":{"field":"Density","type":"quantitative","scale":{"domain":[-100,2512],"range":[965,361],"nice":false,"zero":false},
"axis":{"title":"Densities","offset":-192,"values":[0,500,1000,1500,2000,2500],"format":"d","domain":false,"tickSize":21,"tickWidth":2,"labelAngle":-90,"labelAlign":"center","labelBaseline":"bottom","labelFontSize":52,"labelPadding":20,"labelOverlap":false,"labelExpr":"datum.value==1000||datum.value==2000?'':datum.label","titleFontSize":52,"titlePadding":33}},
"color":{"field":"Series","type":"nominal","scale":{"domain":["Su","Si","BI"],"range":["#00ff00","#ff0000","#a020f0"]},"legend":null},"detail":{"field":"Series"}}},
{"mark":{"type":"rect","fill":null,"stroke":"#222","strokeWidth":2},"data":{"values":[{"a":1}]},"encoding":{"x":{"datum":-100},"x2":{"datum":2600},"y":{"datum":-100},"y2":{"datum":2512}}},
{"mark":{"type":"rect","fill":"white","stroke":"#111","strokeWidth":2},"data":{"values":[{"a":1}]},"encoding":{"x":{"datum":37},"x2":{"datum":554},"y":{"datum":1873},"y2":{"datum":2415}}},
{"data":{"name":"legendKeys"},"mark":{"type":"rule","strokeWidth":4.5},"encoding":{"x":{"field":"from","type":"quantitative"},"x2":{"field":"to"},"y":{"field":"level","type":"quantitative"},"color":{"field":"Series","type":"nominal"}}},
{"data":{"name":"legendText"},"mark":{"type":"text","align":"left","baseline":"middle","fontSize":36,"font":"Liberation Sans","color":"#111"},"encoding":{"x":{"field":"at","type":"quantitative"},"y":{"field":"level","type":"quantitative"},"text":{"field":"label"}}}
]},
{"layer":[
{"data":{"name":"box"},"mark":{"type":"rule","stroke":"#222","strokeWidth":1.8},"encoding":{"x":{"field":"u","type":"quantitative","scale":{"domain":[0,3202],"range":[0,3202],"nice":false,"zero":false},"axis":null},"y":{"field":"v","type":"quantitative","scale":{"domain":[0,1307],"range":[0,1307],"nice":false,"zero":false},"axis":null},"x2":{"field":"u2"},"y2":{"field":"v2"}}},
{"data":{"name":"orbit"},
"mark":{"type":"line","strokeWidth":8,"strokeCap":"round","strokeJoin":"round","interpolate":"catmull-rom"},
"encoding":{"x":{"field":"u","type":"quantitative"},"y":{"field":"v","type":"quantitative"},"order":{"field":"Time"},"detail":{"field":"Arc"},
"color":{"field":"Arc","type":"quantitative","scale":{"domain":[0,187.5,375,562.5,750,937.5,1125,1312.5,1500],"range":["#00007f","#0000ff","#007fff","#00ffff","#7fff7f","#ffff00","#ff7f00","#ff0000","#7f0000"]},"legend":null}}},
{"data":{"name":"boxText"},"mark":{"type":"text","align":"center","baseline":"middle","fontSize":33,"font":"DejaVu Sans","color":"#222"},"encoding":{"x":{"field":"u","type":"quantitative"},"y":{"field":"v","type":"quantitative"},"text":{"field":"label"}}},
{"data":{"name":"captions"},"mark":{"type":"text","align":"center","baseline":"middle","fontSize":66,"font":"Liberation Serif","fontWeight":"bold","color":"#000"},"encoding":{"x":{"field":"u","type":"quantitative"},"y":{"field":"v","type":"quantitative"},"text":{"field":"label"}}}
]},
{"data":{"name":"bar"},"mark":{"type":"rect"},
"encoding":{"x":{"datum":0,"type":"quantitative","scale":{"domain":[0,1],"range":[3006,3081],"nice":false,"zero":false},"axis":null},"x2":{"datum":1},
"y":{"field":"t","type":"quantitative","scale":{"domain":[0,1500],"range":[1131,132],"nice":false,"zero":false},"axis":{"title":null,"orient":"right","offset":-121,"values":[500,1000],"format":"d","domain":false,"tickSize":22,"tickWidth":2,"labelFont":"DejaVu Sans","labelFontSize":33,"labelPadding":6,"labelColor":"#222"}},"y2":{"field":"e"},
"color":{"field":"t","type":"quantitative","scale":{"domain":[0,187.5,375,562.5,750,937.5,1125,1312.5,1500],"range":["#00007f","#0000ff","#007fff","#00ffff","#7fff7f","#ffff00","#ff7f00","#ff0000","#7f0000"]},"legend":null}}}
]}
